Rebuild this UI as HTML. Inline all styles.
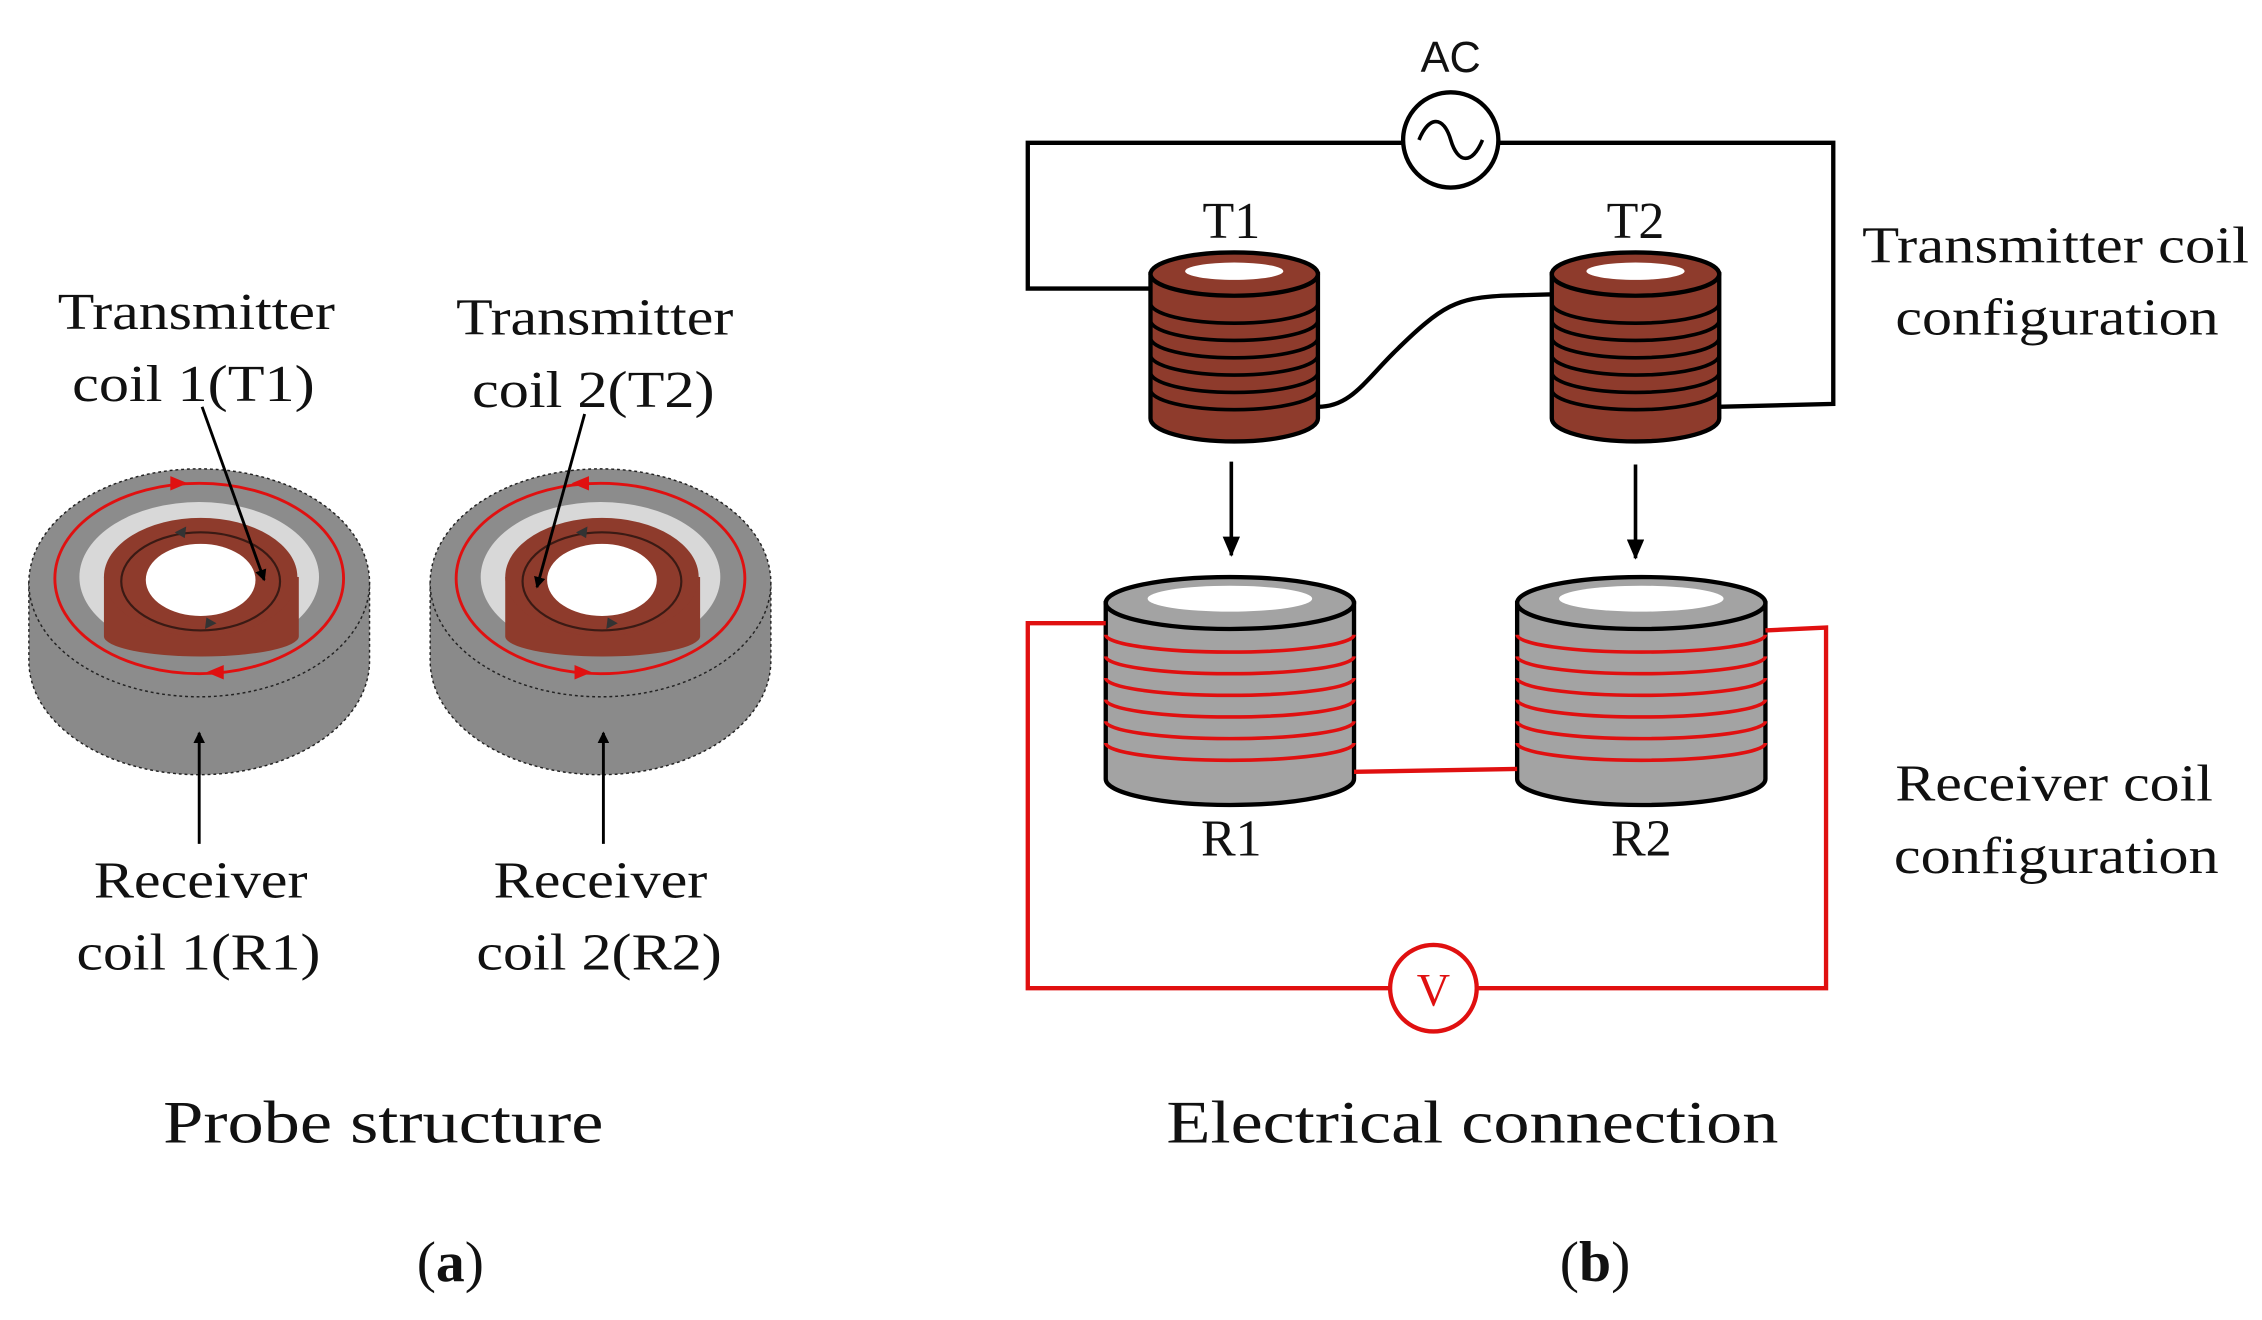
<!DOCTYPE html>
<html><head><meta charset="utf-8"><style>html,body{margin:0;padding:0;background:#fff}svg{display:block}</style></head><body>
<svg width="2262" height="1320" viewBox="0 0 1567 915" preserveAspectRatio="none" xmlns="http://www.w3.org/2000/svg" font-family="Liberation Serif, serif">
<defs>
<marker id="ah" markerWidth="8" markerHeight="8" refX="7" refY="4" orient="auto" markerUnits="userSpaceOnUse"><path d="M0,0 L8,4 L0,8 Z" fill="#000"/></marker>
<marker id="ah2" markerWidth="14" markerHeight="12" refX="13" refY="6" orient="auto" markerUnits="userSpaceOnUse"><path d="M0,0 L14,6 L0,12 Z" fill="#000"/></marker>
<g id="ring">
<path d="M20,404 L20,458 A118,79 0 0 0 256,458 L256,404 Z" fill="#8a8a8a" stroke="#222" stroke-dasharray="2,2"/>
<ellipse cx="138" cy="404" rx="118" ry="79" fill="#8c8c8c" stroke="#222" stroke-dasharray="2,2"/>
<ellipse cx="138" cy="400" rx="83" ry="52" fill="#d8d8d8"/>
<path d="M72,400 L72,441 A67,14 0 0 0 207,441 L207,400 Z" fill="#8e3b2c"/>
<ellipse cx="139" cy="400" rx="67" ry="41" fill="#8e3b2c"/>
<ellipse cx="139" cy="403" rx="55" ry="34" fill="none" stroke="#3a1a14" stroke-width="1.5"/>
<ellipse cx="139" cy="402" rx="38" ry="25" fill="#fff"/>
<ellipse cx="138" cy="401" rx="100" ry="66" fill="none" stroke="#e01010" stroke-width="2"/>
<path d="M121,369 l8,-4 l-1,8 z" fill="#333"/>
<path d="M150,432 l-8,4 l1,-8 z" fill="#333"/>
</g>
</defs>
<use href="#ring"/>
<path d="M118,330 l12,5 l-12,5 z" fill="#e01010"/><path d="M155,461 l-12,5 l12,5 z" fill="#e01010"/>
<use href="#ring" transform="translate(278,0)"/>
<path d="M408,330 l-12,5 l12,5 z" fill="#e01010"/><path d="M398,461 l12,5 l-12,5 z" fill="#e01010"/>
<g font-size="36" fill="#111">
<text x="40" y="228" textLength="192" lengthAdjust="spacingAndGlyphs">Transmitter</text>
<text x="50" y="278" textLength="168" lengthAdjust="spacingAndGlyphs">coil 1(T1)</text>
<text x="316" y="232" textLength="192" lengthAdjust="spacingAndGlyphs">Transmitter</text>
<text x="327" y="282" textLength="168" lengthAdjust="spacingAndGlyphs">coil 2(T2)</text>
<text x="65" y="622" textLength="148" lengthAdjust="spacingAndGlyphs">Receiver</text>
<text x="53" y="672" textLength="169" lengthAdjust="spacingAndGlyphs">coil 1(R1)</text>
<text x="342" y="622" textLength="148" lengthAdjust="spacingAndGlyphs">Receiver</text>
<text x="330" y="672" textLength="170" lengthAdjust="spacingAndGlyphs">coil 2(R2)</text>
<text x="113" y="792" font-size="42" textLength="305" lengthAdjust="spacingAndGlyphs">Probe structure</text>
<text x="1290" y="182" textLength="268" lengthAdjust="spacingAndGlyphs">Transmitter coil</text>
<text x="1313" y="232" textLength="224" lengthAdjust="spacingAndGlyphs">configuration</text>
<text x="1313" y="555" textLength="220" lengthAdjust="spacingAndGlyphs">Receiver coil</text>
<text x="1312" y="605" textLength="225" lengthAdjust="spacingAndGlyphs">configuration</text>
<text x="808" y="792" font-size="42" textLength="424" lengthAdjust="spacingAndGlyphs">Electrical connection</text>
</g>
<g font-size="36" text-anchor="middle" fill="#111">
<text x="312" y="888" font-size="40">(<tspan font-weight="bold">a</tspan>)</text>
<text x="1005" y="50" font-size="30" font-family="Liberation Sans, sans-serif">AC</text>
<text x="853" y="165">T1</text><text x="1133" y="165">T2</text>
<text x="853" y="593">R1</text><text x="1137" y="593">R2</text>
<text x="1105" y="888" font-size="40">(<tspan font-weight="bold">b</tspan>)</text>
</g>
<g stroke="#000" stroke-width="2">
<line x1="140" y1="282" x2="183" y2="402" marker-end="url(#ah)"/>
<line x1="405" y1="287" x2="372" y2="407" marker-end="url(#ah)"/>
<line x1="138" y1="585" x2="138" y2="508" marker-end="url(#ah)"/>
<line x1="418" y1="585" x2="418" y2="508" marker-end="url(#ah)"/>
</g>
<g fill="none" stroke="#000" stroke-width="3">
<path d="M972,99 L712,99 L712,200 L798,200"/>
<path d="M1038,99 L1270,99 L1270,280 L1190,282"/>
<path d="M913,282 C935,282 945,265 965,245 C1000,210 1010,207 1040,205 L1076,204"/>
</g>
<circle cx="1005" cy="97" r="33" fill="#fff" stroke="#000" stroke-width="3"/>
<path d="M983,97 C990,80 1000,80 1005,97 C1010,114 1020,114 1027,97" fill="none" stroke="#000" stroke-width="2.5"/>
<g id="tc">
<path d="M797,190 L797,290 A58,16 0 0 0 913,290 L913,190 Z" fill="#8e3b2c" stroke="#000" stroke-width="3"/>
<ellipse cx="855" cy="190" rx="58" ry="15" fill="#8e3b2c" stroke="#000" stroke-width="3"/>
<ellipse cx="855" cy="188" rx="34" ry="6" fill="#fff"/>
<g fill="none" stroke="#000" stroke-width="2.5">
<path d="M797,210 A58,14 0 0 0 913,210"/><path d="M797,222 A58,14 0 0 0 913,222"/>
<path d="M797,234 A58,14 0 0 0 913,234"/><path d="M797,246 A58,14 0 0 0 913,246"/>
<path d="M797,258 A58,14 0 0 0 913,258"/><path d="M797,270 A58,14 0 0 0 913,270"/>
</g>
</g>
<use href="#tc" transform="translate(278,0)"/>
<g stroke="#000" stroke-width="2.5">
<line x1="853" y1="320" x2="853" y2="385" marker-end="url(#ah2)"/>
<line x1="1133" y1="322" x2="1133" y2="387" marker-end="url(#ah2)"/>
</g>
<g id="rc">
<path d="M766,418 L766,540 A86,18 0 0 0 938,540 L938,418 Z" fill="#a3a3a3" stroke="#000" stroke-width="3"/>
<ellipse cx="852" cy="418" rx="86" ry="18" fill="#a3a3a3" stroke="#000" stroke-width="3"/>
<ellipse cx="852" cy="415" rx="57" ry="9" fill="#fff"/>
<g fill="none" stroke="#e01010" stroke-width="2.5">
<path d="M766,440 A86,12 0 0 0 938,440"/><path d="M766,455 A86,12 0 0 0 938,455"/>
<path d="M766,470 A86,12 0 0 0 938,470"/><path d="M766,485 A86,12 0 0 0 938,485"/>
<path d="M766,500 A86,12 0 0 0 938,500"/><path d="M766,515 A86,12 0 0 0 938,515"/>
</g>
</g>
<use href="#rc" transform="translate(285,0)"/>
<g fill="none" stroke="#e01010" stroke-width="3">
<path d="M766,432 L712,432 L712,685 L963,685"/>
<path d="M1223,437 L1265,435 L1265,685 L1023,685"/>
<path d="M938,535 L1051,533"/>
</g>
<circle cx="993" cy="685" r="30" fill="#fff" stroke="#e01010" stroke-width="3"/>
<text x="993" y="697" font-size="32" text-anchor="middle" fill="#e01010">V</text>
</svg>
</body></html>
